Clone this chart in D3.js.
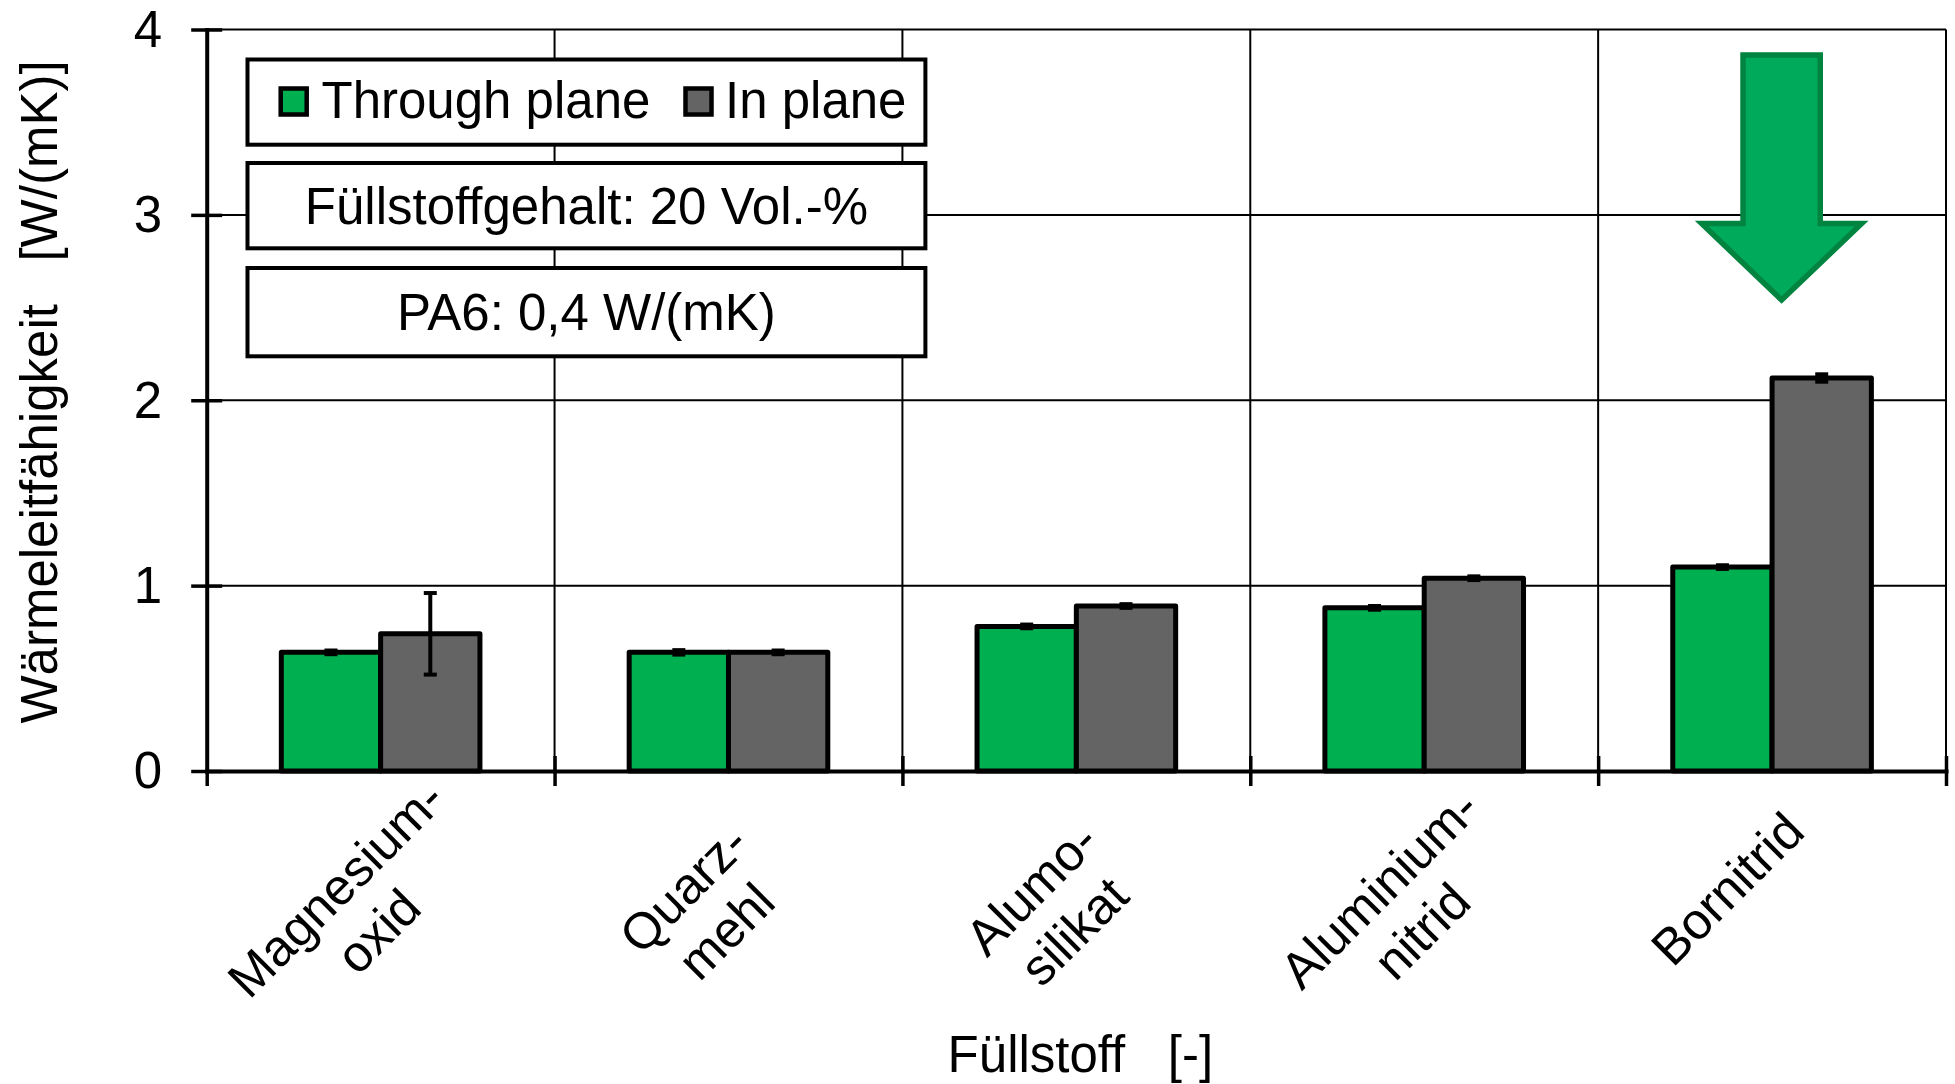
<!DOCTYPE html>
<html>
<head>
<meta charset="utf-8">
<script src="https://cdn.jsdelivr.net/npm/d3@7"></script>
<style>
  html, body { margin: 0; padding: 0; background: #fff; }
  svg { display: block; }
  text { font-family: "Liberation Sans", Arial, Helvetica, sans-serif; fill: #000; }
</style>
</head>
<body>
<svg id="chart" width="1955" height="1084"></svg>
<script>
// ---------------- data ----------------
const categories = ["Magnesium-\noxid", "Quarz-\nmehl", "Alumo-\nsilikat", "Aluminium-\nnitrid", "Bornitrid"];
const seriesNames = ["Through plane", "In plane"];
const throughPlane = [0.64, 0.64, 0.78, 0.88, 1.10];
const inPlane      = [0.74, 0.64, 0.89, 1.04, 2.12];
const throughErr   = [0.01, 0.012, 0.01, 0.01, 0.01];
const inErr        = [0.22, 0.01, 0.01, 0.01, 0.02];
const yTicks = [0, 1, 2, 3, 4];
const infoTexts = ["Füllstoffgehalt: 20 Vol.-%", "PA6: 0,4 W/(mK)"];
const yTitle = "Wärmeleitfähigkeit   [W/(mK)]";
const xTitle = "Füllstoff   [-]";
// arrow annotation (data units): top, neck, tip values
const arrowVals = [3.862, 2.953, 2.541];

(function () {
// ---------------- layout ----------------
const svg = d3.select("#chart");
const pLeft = 206.7, pRight = 1946, pTop = 29.5, pBottom = 771;
const colors = {"Through plane": "#00B050", "In plane": "#646464"};
const FS = 51;

const x = d3.scaleBand().domain(categories).range([pLeft, pRight]).padding(0);
const bw = x.bandwidth();
const x1 = d3.scaleBand().domain(seriesNames).range([bw * 0.2145, bw * 0.7855]).padding(0);
const y = d3.scaleLinear().domain([0, 4]).range([pBottom, pTop]);
const xb = d3.scaleLinear().domain([0, categories.length]).range([pLeft, pRight]);

// grid lines
const grid = svg.append("g");
grid.selectAll("line.h").data(yTicks.filter(d => d > 0)).join("line").attr("class", "h")
  .attr("x1", pLeft).attr("x2", pRight)
  .attr("y1", d => y(d)).attr("y2", d => y(d))
  .attr("stroke", "#000").attr("stroke-width", 2);
grid.selectAll("line.v").data(d3.range(1, categories.length + 1)).join("line").attr("class", "v")
  .attr("x1", d => xb(d)).attr("x2", d => xb(d))
  .attr("y1", pTop).attr("y2", pBottom)
  .attr("stroke", "#000").attr("stroke-width", 2);

// info boxes (legend + notes)
const boxX0 = 247.5, boxX1 = 925.4;
const boxes = [{y0: 59.5, y1: 144.7}, {y0: 163, y1: 248.3}, {y0: 268, y1: 356.3}];
svg.append("g").selectAll("rect").data(boxes).join("rect")
  .attr("x", boxX0).attr("y", d => d.y0)
  .attr("width", boxX1 - boxX0).attr("height", d => d.y1 - d.y0)
  .attr("fill", "#fff").attr("stroke", "#000").attr("stroke-width", 4);

// legend content
const legendItems = [
  {name: seriesNames[0], sq: 293.7, tx: 321.5},
  {name: seriesNames[1], sq: 698.5, tx: 725}
];
const lg = svg.append("g");
lg.selectAll("rect").data(legendItems).join("rect")
  .attr("x", d => d.sq - 13).attr("y", 88.5).attr("width", 26).attr("height", 26)
  .attr("fill", d => colors[d.name]).attr("stroke", "#000").attr("stroke-width", 4.5);
lg.selectAll("text").data(legendItems).join("text")
  .attr("x", d => d.tx).attr("y", 118.3)
  .attr("font-size", FS).text(d => d.name);

// note texts
svg.append("g").selectAll("text").data(infoTexts).join("text")
  .attr("x", (boxX0 + boxX1) / 2)
  .attr("y", (d, i) => [224.3, 330][i])
  .attr("text-anchor", "middle").attr("font-size", FS).text(d => d);

// bars
const barData = [];
categories.forEach((c, i) => {
  barData.push({cat: c, s: seriesNames[0], v: throughPlane[i], e: throughErr[i]});
  barData.push({cat: c, s: seriesNames[1], v: inPlane[i], e: inErr[i]});
});
const bars = svg.append("g");
bars.selectAll("rect").data(barData).join("rect")
  .attr("x", d => x(d.cat) + x1(d.s))
  .attr("width", x1.bandwidth())
  .attr("y", d => y(d.v))
  .attr("height", d => y(0) - y(d.v))
  .attr("fill", d => colors[d.s])
  .attr("stroke", "#000").attr("stroke-width", 5).attr("stroke-linejoin", "round");

// error bars
const eb = svg.append("g").attr("stroke", "#000");
const cx = d => x(d.cat) + x1(d.s) + x1.bandwidth() / 2;
eb.selectAll("line.v").data(barData).join("line").attr("class", "v")
  .attr("x1", cx).attr("x2", cx)
  .attr("y1", d => y(d.v + d.e)).attr("y2", d => y(d.v - d.e))
  .attr("stroke-width", 4);
eb.selectAll("line.t").data(barData).join("line").attr("class", "t")
  .attr("x1", d => cx(d) - 6.5).attr("x2", d => cx(d) + 6.5)
  .attr("y1", d => y(d.v + d.e)).attr("y2", d => y(d.v + d.e))
  .attr("stroke-width", 4);
eb.selectAll("line.b").data(barData).join("line").attr("class", "b")
  .attr("x1", d => cx(d) - 6.5).attr("x2", d => cx(d) + 6.5)
  .attr("y1", d => y(d.v - d.e)).attr("y2", d => y(d.v - d.e))
  .attr("stroke-width", 4);

// y axis
const yAxis = svg.append("g").attr("transform", `translate(${pLeft},0)`)
  .call(d3.axisLeft(y).tickValues(yTicks).tickFormat(d3.format("d"))
    .tickSizeOuter(0).tickSizeInner(15).tickPadding(0));
yAxis.select(".domain").attr("stroke", "#000").attr("stroke-width", 4).attr("stroke-linecap", "square");
yAxis.selectAll(".tick line").attr("x1", 15.5).attr("x2", -15.5).attr("stroke", "#000").attr("stroke-width", 3.5);
yAxis.selectAll(".tick text").attr("x", -44.5).attr("dy", "0.33em")
  .attr("font-size", FS).attr("font-family", "Liberation Sans, Arial, sans-serif").attr("fill", "#000");

// x axis (ticks at category boundaries)
const xAxis = svg.append("g").attr("transform", `translate(0,${pBottom})`)
  .call(d3.axisBottom(xb).tickValues(d3.range(0, categories.length + 1)).tickFormat("").tickSizeOuter(0).tickSizeInner(15));
xAxis.select(".domain").attr("stroke", "#000").attr("stroke-width", 4).attr("stroke-linecap", "square");
xAxis.selectAll(".tick line").attr("y1", -15).attr("y2", 15).attr("stroke", "#000").attr("stroke-width", 3.5);
xAxis.selectAll(".tick").filter(d => d === 0).select("line").attr("y1", 0);

// category labels (rotated -45°, centered lines, block top anchored)
const lab = svg.append("g");
categories.forEach(c => {
  const lines = c.split("\n");
  const g = lab.append("g")
    .attr("transform", `translate(${x(c) + bw / 2 - 66},${pBottom + 96.6}) rotate(-45)`);
  lines.forEach((t, k) => {
    g.append("text").attr("x", 0).attr("y", 47.7 + 60 * k)
      .attr("text-anchor", "middle").attr("font-size", FS).text(t);
  });
});

// axis titles
svg.append("text")
  .attr("transform", `translate(57,392) rotate(-90)`)
  .attr("text-anchor", "middle").attr("font-size", FS)
  .style("white-space", "pre").text(yTitle);
svg.append("text")
  .attr("x", (pLeft + pRight) / 2 + 4).attr("y", 1072)
  .attr("text-anchor", "middle").attr("font-size", FS)
  .style("white-space", "pre").text(xTitle);

// arrow annotation over "Bornitrid"
const ax = x("Bornitrid") + bw * 0.5275;
const shaftHalf = bw * 0.111, headHalf = bw * 0.23;
const arrowPts = [
  [ax - shaftHalf, y(arrowVals[0])],
  [ax + shaftHalf, y(arrowVals[0])],
  [ax + shaftHalf, y(arrowVals[1])],
  [ax + headHalf, y(arrowVals[1])],
  [ax, y(arrowVals[2])],
  [ax - headHalf, y(arrowVals[1])],
  [ax - shaftHalf, y(arrowVals[1])]
];
svg.append("path")
  .attr("d", d3.line()(arrowPts) + "Z")
  .attr("fill", "#00AA5B").attr("stroke", "#00843F").attr("stroke-width", 5.5)
  .attr("stroke-linejoin", "miter");
})();
</script>
</body>
</html>
